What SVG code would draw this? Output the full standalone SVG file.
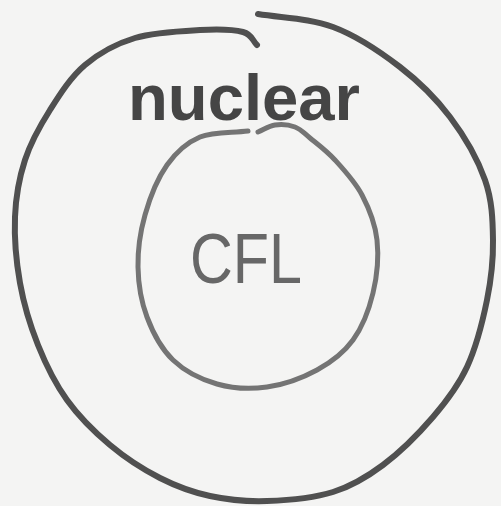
<svg xmlns="http://www.w3.org/2000/svg" width="501" height="506" viewBox="0 0 501 506">
<style>
.outer{fill:none;stroke:#505050;stroke-width:6;stroke-linecap:round;stroke-linejoin:round}
.inner{fill:none;stroke:#747474;stroke-width:5;stroke-linecap:round;stroke-linejoin:round}
.lbl{font-family:"Liberation Sans","DejaVu Sans",sans-serif}
</style>
<rect width="501" height="506" fill="#f4f4f3"/>
<g id="nuclear">
<path class="outer" d="M258,14 C283,18 309.3,18.2 333,27 C356.7,35.8 380.5,52 400,67 C419.5,82 435.8,98.2 450,117 C464.2,135.8 477.8,159.5 485,180 C492.2,200.5 492.7,220 493,240 C493.3,260 491.3,278.8 487,300 C482.7,321.2 476,347.5 467,367 C458,386.5 447,400.7 433,417 C419,433.3 399.7,452.5 383,465 C366.3,477.5 352.3,486 333,492 C313.7,498 287.5,500.3 267,501 C246.5,501.7 227.8,499.8 210,496 C192.2,492.2 176.7,486.5 160,478 C143.3,469.5 125.5,458 110,445 C94.5,432 79,416.7 67,400 C55,383.3 45.8,364.5 38,345 C30.2,325.5 23.8,304.3 20,283 C16.2,261.7 14.2,237.5 15,217 C15.8,196.5 19.2,177.8 25,160 C30.8,142.2 40,125.8 50,110 C60,94.2 70.8,77 85,65 C99.2,53 115.8,43.8 135,38 C154.2,32.2 182,31 200,30 C218,29 233.5,29.5 243,32 C252.5,34.5 252.3,40.7 257,45"/>
<text class="lbl" x="128" y="120" font-size="64" font-weight="bold" fill="#454545" textLength="232" lengthAdjust="spacingAndGlyphs">nuclear</text>
</g>
<g id="cfl">
<path class="inner" d="M248,131 C232,133 213.5,131.3 200,137 C186.5,142.7 176.2,152 167,165 C157.8,178 149.8,198 145,215 C140.2,232 137.7,250 138,267 C138.3,284 141.2,301.5 147,317 C152.8,332.5 161.3,348.8 173,360 C184.7,371.2 201.3,379.5 217,384 C232.7,388.5 250.3,389.3 267,387 C283.7,384.7 302.7,377.8 317,370 C331.3,362.2 343.7,352.8 353,340 C362.3,327.2 369,309.7 373,293 C377,276.3 378.8,256.3 377,240 C375.2,223.7 369,208.3 362,195 C355,181.7 343.7,169.5 335,160 C326.3,150.5 316.7,143.5 310,138 C303.3,132.5 300.8,129.2 295,127 C289.2,124.8 281.2,124.2 275,125 C268.8,125.8 263.7,129.7 258,132"/>
<text class="lbl" x="190" y="283" font-size="70" fill="#676767" textLength="112" lengthAdjust="spacingAndGlyphs">CFL</text>
</g>
<g id="connectors"/>
</svg>
